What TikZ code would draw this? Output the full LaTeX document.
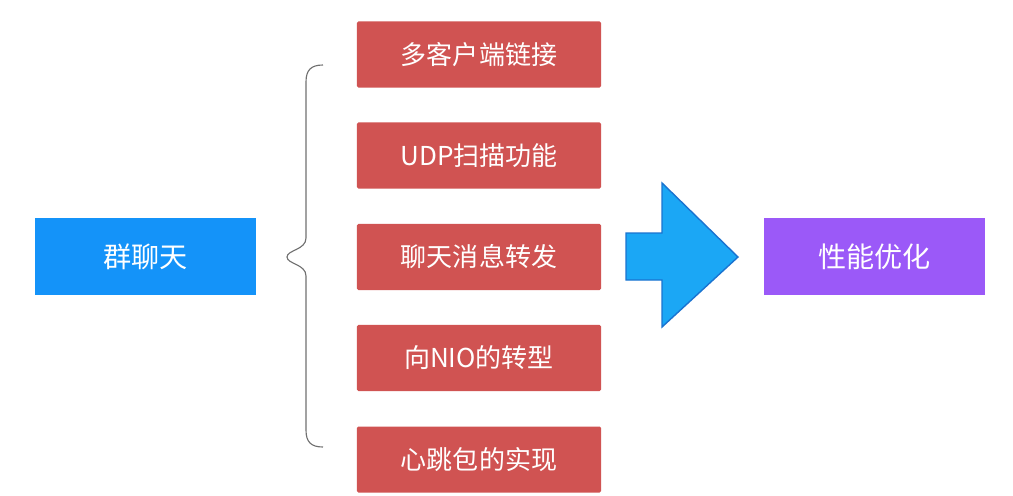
\documentclass[tikz,border=0pt]{standalone}
\usepackage{fontspec}
\setmainfont{Noto Sans CJK SC}
\usepackage{tikz}
\usetikzlibrary{positioning}

\definecolor{chatblue}{HTML}{1493F9}
\definecolor{taskred}{HTML}{D05352}
\definecolor{perfpurple}{HTML}{9B59F8}
\definecolor{arrowfill}{HTML}{1BA7F5}
\definecolor{arrowedge}{HTML}{1A73D0}
\definecolor{bracegray}{HTML}{707070}

\begin{document}
\begin{tikzpicture}[
  x=0.025cm, y=-0.025cm,
  topic/.style={minimum width=5.5cm, minimum height=1.9cm, text=white,
    font=\fontsize{20}{24}\selectfont, inner sep=0pt},
  task/.style={fill=taskred, rounded corners=1pt, minimum width=6.1cm,
    minimum height=1.65cm, text=white, font=\fontsize{18.5}{22}\selectfont,
    inner sep=0pt},
]
  \useasboundingbox (0,0) rectangle (1013,495);

  % Left: group chat
  \node[topic, fill=chatblue] (chat) at (145.5,256.5) {群聊天};

  % Middle: feature list
  \node[task] (multi) at (479,54.5) {多客户端链接};
  \node[task] (udp) at (479,155.5) {UDP扫描功能};
  \node[task] (fwd) at (479,257) {聊天消息转发};
  \node[task] (nio) at (479,358) {向NIO的转型};
  \node[task] (beat) at (479,459.5) {心跳包的实现};

  % Right: performance tuning
  \node[topic, fill=perfpurple] (perf) at (874.5,256.5) {性能优化};

  % Brace
  \draw[bracegray, line width=0.8pt]
    (323,65) .. controls (311,65) and (306,70) .. (306,82)
    -- (306,238) .. controls (306,250) and (287,250) .. (287,257)
    .. controls (287,264) and (306,264) .. (306,276)
    -- (306,430) .. controls (306,442) and (311,447) .. (323,447);

  % Big arrow
  \draw[fill=arrowfill, draw=arrowedge, line width=1pt, line join=miter]
    (626,233) -- (662,233) -- (662,183) -- (738,257)
    -- (662,327) -- (662,280) -- (626,280) -- cycle;
\end{tikzpicture}
\end{document}
